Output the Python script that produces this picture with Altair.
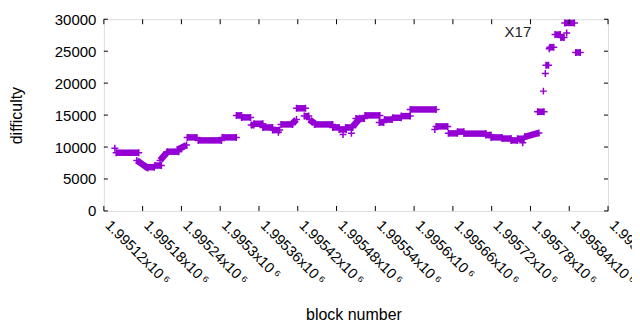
import altair as alt
import pandas as pd

# runs of (first block, last block, difficulty at first, difficulty at last)
seg_start = [1995137, 1995139, 1995171, 1995186, 1995199, 1995207, 1995218, 1995234,
             1995249, 1995266, 1995303, 1995325, 1995333, 1995348, 1995352, 1995366,
             1995381, 1995390, 1995394, 1995412, 1995418, 1995430, 1995438, 1995446,
             1995474, 1995484, 1995490, 1995494, 1995503, 1995505, 1995510, 1995524,
             1995546, 1995554, 1995567, 1995580, 1995594, 1995632, 1995634, 1995653,
             1995667, 1995677, 1995711, 1995719, 1995736, 1995750, 1995760, 1995768,
             1995771, 1995791, 1995800, 1995803, 1995804, 1995809, 1995810, 1995818,
             1995827, 1995836, 1995833, 1995850]
seg_end = [1995137, 1995174, 1995188, 1995198, 1995209, 1995217, 1995236, 1995248,
           1995264, 1995302, 1995325, 1995333, 1995347, 1995352, 1995366, 1995381,
           1995392, 1995390, 1995412, 1995418, 1995432, 1995437, 1995446, 1995474,
           1995484, 1995495, 1995490, 1995505, 1995503, 1995516, 1995523, 1995547,
           1995553, 1995566, 1995580, 1995594, 1995634, 1995632, 1995652, 1995667,
           1995677, 1995711, 1995719, 1995736, 1995750, 1995760, 1995770, 1995768,
           1995793, 1995801, 1995800, 1995803, 1995808, 1995809, 1995816, 1995826,
           1995832, 1995836, 1995848, 1995857]
seg_from = [9800, 9110, 7900, 6850, 7100, 7900, 9270, 9600,
            11510, 11040, 11510, 14950, 14640, 13440, 13640, 13070,
            12650, 12300, 13540, 13700, 16060, 14840, 14300, 13540,
            13070, 12760, 11980, 13070, 12140, 13200, 14450, 14950,
            13850, 14300, 14580, 14840, 15880, 12760, 13230, 12140,
            12400, 12100, 11880, 11510, 11330, 11040, 11300, 10680,
            11600, 15520, 18750, 21500, 22810, 25400, 25620, 27600,
            27140, 27860, 29420, 24800]
seg_to = [9800, 9110, 6700, 6850, 7100, 9100, 9270, 10300,
          11510, 11040, 11510, 14950, 14640, 13440, 13640, 13070,
          12650, 12300, 13540, 14300, 16060, 14840, 13700, 13540,
          13070, 12760, 11980, 13070, 12140, 14500, 14450, 14950,
          13850, 14300, 14580, 14840, 15880, 12760, 13230, 12140,
          12400, 12100, 11880, 11510, 11330, 11040, 11300, 10680,
          12200, 15520, 18750, 21500, 22810, 25400, 25620, 27600,
          27140, 27860, 29420, 24800]

x_ticks = [1995120, 1995180, 1995240, 1995300, 1995360, 1995420, 1995480,
           1995540, 1995600, 1995660, 1995720, 1995780, 1995840, 1995900]
y_ticks = [0, 5000, 10000, 15000, 20000, 25000, 30000]
note_block = [1995740]
note_diff = [28080]
note_text = ["X17"]

W, H = 505, 192
COLOR = "#9400d3"
FONT = "Liberation Sans"

segs = pd.DataFrame({"b0": seg_start, "b1": seg_end, "d0": seg_from, "d1": seg_to})
pts = pd.concat([
    segs[["b0", "d0"]].rename(columns={"b0": "block", "d0": "diff"}),
    segs[["b1", "d1"]].rename(columns={"b1": "block", "d1": "diff"}),
]).drop_duplicates()

xscale = alt.Scale(domain=[x_ticks[0], x_ticks[-1]], nice=False, zero=False)
yscale = alt.Scale(domain=[y_ticks[0], y_ticks[-1]], nice=False, zero=False)

xaxis = alt.Axis(values=x_ticks, labelExpr="format(datum.value/1000000, '.6~g') + 'x10\u2009\u2076'",
                 labelAngle=45, labelAlign="left", labelBaseline="top", labelPadding=7,
                 labelOffset=8,
                 labelOverlap=False, labelFlush=False, labelBound=False,
                 labelFont=FONT, labelFontSize=14.5, labelColor="black",
                 ticks=False, domain=False, grid=False,
                 title="block number", titleFont=FONT, titleFontSize=16, titleFontWeight="normal",
                 titleColor="black", titleX=250, titleY=104, titleBaseline="middle", titleAlign="center")
yaxis = alt.Axis(values=y_ticks, format="d", labelPadding=8, labelFont=FONT, labelFontSize=15,
                 labelColor="black", ticks=False, domain=False, grid=False,
                 title="difficulty", titleFont=FONT, titleFontSize=16, titleFontWeight="normal",
                 titleColor="black", titleX=-87, titleY=96, titleAngle=270,
                 titleBaseline="middle", titleAlign="center")


def X(field):
    return alt.X(field, scale=xscale, axis=xaxis)


def Y(field):
    return alt.Y(field, scale=yscale, axis=yaxis)


bands = alt.Chart(segs).mark_rule(color=COLOR, strokeWidth=6.5).encode(
    x=X("b0:Q"), x2="b1:Q", y=Y("d0:Q"), y2="d1:Q",
)
marks = alt.Chart(pts).mark_point(shape="M-1,0H1M0,-1V1", size=49, filled=False,
                                  strokeWidth=1.5, color=COLOR, opacity=1).encode(
    x=X("block:Q"), y=Y("diff:Q"),
)

xt = pd.DataFrame({"v": x_ticks})
yt = pd.DataFrame({"v": y_ticks})
tick_b = alt.Chart(xt).mark_rule(color="black", strokeWidth=1).encode(
    x=X("v:Q"), y=alt.value(H), y2=alt.value(H - 5))
tick_t = alt.Chart(xt).mark_rule(color="black", strokeWidth=1).encode(
    x=X("v:Q"), y=alt.value(0), y2=alt.value(5))
tick_l = alt.Chart(yt).mark_rule(color="black", strokeWidth=1).encode(
    y=Y("v:Q"), x=alt.value(0), x2=alt.value(4))
tick_r = alt.Chart(yt).mark_rule(color="black", strokeWidth=1).encode(
    y=Y("v:Q"), x=alt.value(W), x2=alt.value(W - 4))

note = alt.Chart(pd.DataFrame({"block": note_block, "diff": note_diff, "t": note_text})).mark_text(
    align="left", baseline="middle", font=FONT, fontSize=15, color="#222222").encode(
    x=X("block:Q"), y=Y("diff:Q"), text="t:N",
)

chart = alt.layer(bands, marks, tick_b, tick_t, tick_l, tick_r, note).properties(
    width=W, height=H,
    autosize=alt.AutoSizeParams(type="none"),
    padding={"left": 96, "top": 11, "right": 24, "bottom": 119},
).configure_view(stroke="black", strokeWidth=1).configure(background="white")

chart.save("out.html", embed_options={"renderer": "svg", "actions": False})
